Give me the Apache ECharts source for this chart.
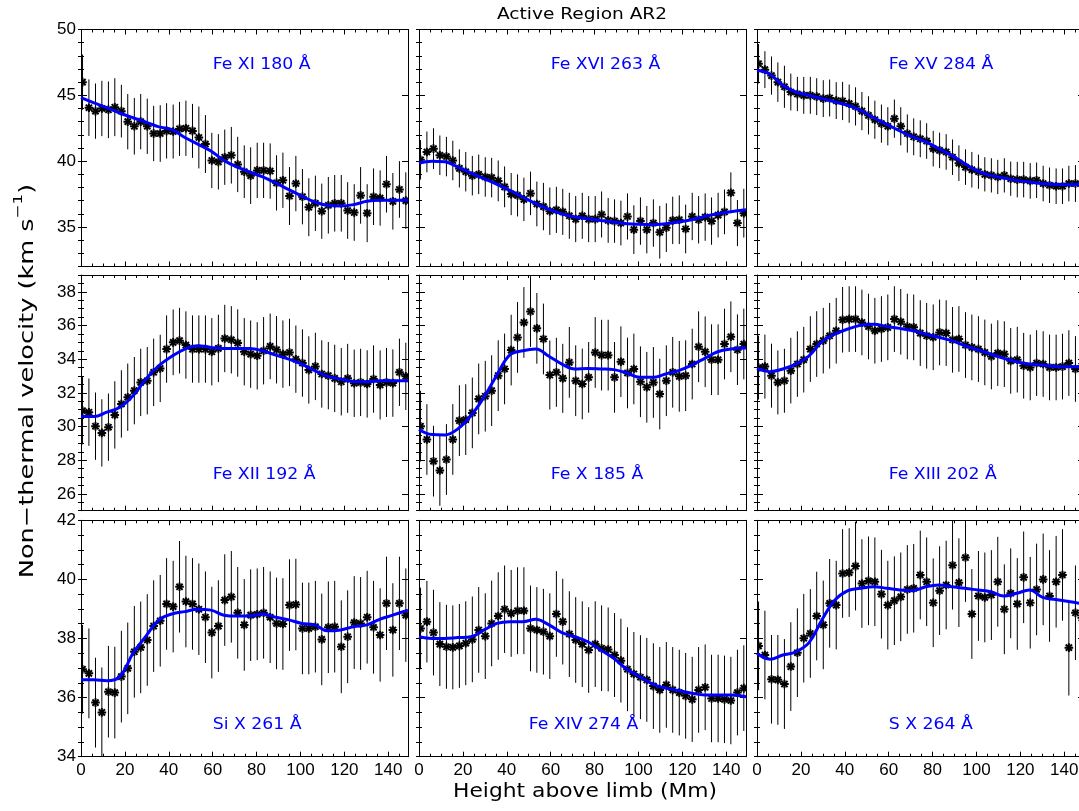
<!DOCTYPE html>
<html>
<head>
<meta charset="utf-8">
<title>Active Region AR2</title>
<script src="https://cdn.jsdelivr.net/npm/echarts@6/dist/echarts.min.js"></script>
<style>
  html, body { margin: 0; padding: 0; background: #fff; }
  #chart { width: 1079px; height: 811px; }
</style>
</head>
<body>
<div id="chart"></div>
<script>
// Non-thermal velocity vs height above limb, nine EIS lines (AR2)

// heights of the measured points (Mm)
const heights = [
  0.7, 3.6, 6.6, 9.5, 12.5, 15.4, 18.4, 21.3, 24.3, 27.2,
  30.2, 33.1, 36.1, 39.0, 42.0, 44.9, 47.8, 50.8, 53.7, 56.7,
  59.6, 62.6, 65.5, 68.5, 71.4, 74.4, 77.3, 80.3, 83.2, 86.2,
  89.1, 92.0, 95.0, 97.9, 100.9, 103.8, 106.8, 109.7, 112.7, 115.6,
  118.6, 121.5, 124.5, 127.4, 130.4, 133.3, 136.3, 139.2, 142.1, 145.1,
  148.0
];
// heights where the smoothed (blue) curve was read
const fitHeights = [
  0, 5.9, 11.8, 17.7, 23.7, 29.6, 35.5, 41.4, 47.3, 53.2,
  59.2, 65.1, 71.0, 76.9, 82.8, 88.7, 94.7, 100.6, 106.5, 112.4,
  118.3, 124.2, 130.2, 136.1, 142.0, 149.0
];

const xTicks = [0, 20, 40, 60, 80, 100, 120, 140];
const yTicksTop = [35, 40, 45, 50];
const yTicksMiddle = [26, 28, 30, 32, 34, 36, 38];
const yTicksBottom = [34, 36, 38, 40, 42];

const lineNames = [
  'Fe XI 180 Å', 'Fe XVI 263 Å', 'Fe XV 284 Å',
  'Fe XII 192 Å', 'Fe X 185 Å', 'Fe XIII 202 Å',
  'Si X 261 Å', 'Fe XIV 274 Å', 'S X 264 Å'
];

// Fe XI 180
const feXI = [
  46.0, 44.06, 43.8, 44.0, 43.9, 44.1, 43.8, 43.0, 42.65, 43.0,
  42.65, 42.1, 42.1, 42.3, 42.25, 42.45, 42.5, 42.3, 41.8, 41.3,
  40.05, 39.95, 40.3, 40.45, 39.75, 39.2, 38.9, 39.3, 39.3, 39.25,
  38.35, 38.55, 37.35, 38.3, 37.3, 36.5, 36.8, 36.2, 36.65, 36.8,
  36.8, 36.25, 36.1, 37.4, 36.05, 37.3, 37.2, 38.25, 36.95, 37.85,
  37.0
];
const feXIErr = [
  2.1, 2.15, 2.1, 2.1, 2.15, 2.2, 2.0, 2.1, 2.15, 2.1,
  2.1, 2.1, 2.15, 2.1, 2.05, 2.05, 2.1, 2.05, 2.35, 2.2,
  2.1, 2.1, 2.1, 2.15, 2.1, 2.0, 2.15, 2.1, 2.1, 2.1,
  2.1, 2.1, 2.2, 2.1, 2.1, 2.2, 2.1, 2.1, 2.15, 2.15,
  2.15, 2.15, 2.15, 2.15, 2.2, 2.15, 2.1, 2.15, 2.15, 2.15,
  2.15
];
const feXIFit = [
  44.82, 44.42, 44.06, 43.66, 43.3, 42.97, 42.6, 42.4, 41.8, 41.3,
  40.77, 40.06, 39.56, 39.18, 38.8, 38.34, 37.84, 37.35, 36.9, 36.65,
  36.6, 36.7, 36.95, 37.03, 37.03, 37.03
];

// Fe XVI 263
const feXVI = [
  40.1, 40.7, 40.95, 40.45, 40.35, 40.05, 39.45, 39.2, 38.9, 39.0,
  38.8, 38.75, 38.5, 38.05, 37.5, 37.4, 37.1, 37.55, 36.75, 36.55,
  36.2, 36.3, 36.15, 35.85, 35.6, 35.85, 35.6, 35.6, 35.95, 35.5,
  35.45, 35.3, 35.8, 34.8, 35.45, 34.8, 35.3, 34.6, 34.95, 35.5,
  35.55, 34.85, 35.8, 35.55, 35.75, 35.45, 35.9, 36.15, 37.6, 35.3,
  36.05
];
const feXVIErr = [
  1.5, 1.55, 1.55, 1.5, 1.5, 1.5, 1.45, 1.5, 1.5, 1.5,
  1.5, 1.5, 1.55, 1.55, 1.6, 1.6, 1.65, 1.65, 1.7, 1.8,
  1.8, 1.75, 1.75, 1.75, 1.75, 1.75, 1.75, 1.75, 1.75, 1.7,
  1.65, 1.7, 1.75, 1.85, 1.8, 1.8, 1.8, 2.0, 1.85, 1.8,
  1.85, 1.85, 1.8, 1.8, 1.8, 1.8, 1.7, 1.7, 1.55, 1.75,
  1.85
];
const feXVIFit = [
  39.86, 40.0, 39.95, 39.55, 39.1, 38.67, 38.24, 37.78, 37.28, 36.77,
  36.34, 36.0, 35.76, 35.63, 35.5, 35.38, 35.25, 35.2, 35.18, 35.25,
  35.38, 35.55, 35.8, 36.0, 36.16, 36.31
];

// Fe XV 284
const feXV = [
  47.4, 46.95, 46.5, 46.0, 45.65, 45.25, 45.1, 45.0, 45.0, 44.9,
  44.75, 44.8, 44.6, 44.57, 44.37, 44.16, 43.8, 43.48, 43.15, 42.85,
  42.65, 43.23, 42.65, 42.1, 41.85, 41.7, 41.53, 40.95, 40.82, 40.7,
  40.3, 39.85, 39.55, 39.35, 39.2, 39.0, 38.92, 38.8, 38.92, 38.67,
  38.6, 38.6, 38.5, 38.55, 38.3, 38.17, 38.1, 38.1, 38.3, 38.3,
  38.3
];
const feXVErr = [
  1.5, 1.4, 1.45, 1.5, 1.6, 1.4, 1.3, 1.4, 1.4, 1.4,
  1.4, 1.4, 1.4, 1.45, 1.45, 1.45, 1.45, 1.45, 1.45, 1.45,
  1.45, 1.45, 1.45, 1.45, 1.4, 1.4, 1.35, 1.35, 1.35, 1.35,
  1.35, 1.35, 1.35, 1.35, 1.3, 1.3, 1.3, 1.3, 1.3, 1.3,
  1.35, 1.35, 1.35, 1.35, 1.35, 1.35, 1.35, 1.35, 1.35, 1.4,
  1.4
];
const feXVFit = [
  46.9, 46.6, 45.76, 45.25, 45.0, 44.75, 44.5, 44.24, 43.86, 43.3,
  42.8, 42.29, 41.84, 41.46, 40.95, 40.44, 39.81, 39.25, 38.92, 38.72,
  38.54, 38.42, 38.29, 38.24, 38.2, 38.3
];

// Fe XII 192
const feXII = [
  30.94, 30.85, 30.02, 29.62, 29.96, 30.69, 31.34, 31.74, 32.13, 32.62,
  32.72, 33.22, 33.45, 34.6, 35.0, 35.1, 34.84, 34.6, 34.6, 34.6,
  34.44, 34.64, 35.23, 35.15, 34.96, 34.44, 34.3, 34.2, 34.5, 34.76,
  34.56, 34.3, 34.4, 34.0, 33.77, 33.36, 33.57, 33.12, 33.02, 32.86,
  32.66, 32.86, 32.57, 32.62, 32.53, 32.82, 32.47, 32.62, 32.58, 33.22,
  32.98
];
const feXIIErr = [
  2.0, 2.0, 2.0, 2.0, 2.0, 2.0, 2.0, 2.0, 2.0, 2.0,
  2.0, 2.0, 2.0, 2.0, 1.95, 1.95, 2.0, 2.0, 2.0, 2.0,
  2.0, 2.0, 2.0, 2.0, 2.0, 2.0, 2.0, 2.0, 2.0, 1.95,
  2.0, 2.0, 2.0, 2.0, 2.0, 2.0, 2.0, 2.0, 2.0, 2.0,
  2.0, 2.05, 2.0, 2.0, 2.0, 2.0, 2.05, 2.05, 2.0, 2.0,
  2.0
];
const feXIIFit = [
  30.6, 30.59, 30.85, 31.14, 31.83, 32.82, 33.61, 34.17, 34.6, 34.8,
  34.7, 34.64, 34.64, 34.64, 34.5, 34.24, 34.0, 33.7, 33.32, 32.98,
  32.82, 32.68, 32.66, 32.72, 32.72, 32.72
];

// Fe X 185
const feX = [
  30.02, 29.23, 27.94, 27.39, 28.04, 29.23, 30.35, 30.41, 30.81, 31.64,
  31.8, 32.13, 33.02, 33.42, 34.54, 35.29, 36.18, 36.83, 35.83, 35.2,
  33.06, 33.22, 32.86, 33.81, 32.72, 32.53, 32.92, 34.4, 34.24, 34.24,
  32.92, 33.85, 33.18, 33.42, 32.66, 32.33, 32.62, 31.93, 32.72, 33.22,
  32.98, 33.02, 33.71, 34.74, 34.44, 33.97, 33.97, 34.9, 35.33, 34.56,
  34.9
];
const feXErr = [
  2.1, 2.1, 2.1, 2.1, 2.1, 2.1, 2.1, 2.1, 2.1, 2.1,
  2.1, 2.1, 2.1, 2.1, 2.1, 2.1, 2.1, 2.1, 2.1, 2.1,
  2.05, 2.05, 2.05, 2.1, 2.1, 2.1, 2.1, 2.1, 2.1, 2.1,
  2.1, 2.1, 2.1, 2.1, 2.1, 2.1, 2.1, 2.1, 2.1, 2.1,
  2.1, 2.1, 2.1, 2.1, 2.1, 2.1, 2.1, 2.1, 2.1, 2.1,
  2.1
];
const feXFit = [
  29.82, 29.52, 29.5, 29.86, 30.65, 31.74, 33.06, 34.25, 34.5, 34.6,
  34.17, 33.71, 33.42, 33.45, 33.42, 33.38, 33.18, 32.92, 32.92, 33.12,
  33.32, 33.65, 34.05, 34.44, 34.6, 34.66
];

// Fe XIII 202
const feXIII = [
  33.5, 33.56, 33.02, 32.62, 32.72, 33.32, 33.71, 33.97, 34.6, 34.9,
  35.1, 35.39, 35.69, 36.34, 36.38, 36.38, 36.18, 35.94, 35.69, 35.79,
  35.89, 36.38, 36.22, 35.94, 35.89, 35.55, 35.39, 35.3, 35.59, 35.55,
  35.15, 35.2, 34.84, 34.7, 34.6, 34.4, 34.16, 34.36, 34.3, 33.9,
  33.97, 33.61, 33.51, 33.77, 33.71, 33.51, 33.51, 33.56, 33.77, 33.42,
  33.6
];
const feXIIIErr = [
  1.9, 1.9, 1.9, 1.9, 1.9, 1.95, 1.95, 1.95, 1.95, 1.95,
  1.95, 1.95, 1.95, 1.95, 1.95, 1.95, 1.95, 1.95, 1.95, 1.95,
  1.95, 1.95, 1.95, 1.95, 1.95, 1.95, 1.95, 1.95, 1.95, 1.95,
  1.95, 1.95, 1.95, 1.95, 1.95, 1.95, 1.95, 1.95, 1.95, 1.95,
  1.95, 1.95, 1.95, 1.95, 1.95, 1.95, 1.95, 1.95, 1.95, 1.95,
  1.95
];
const feXIIIFit = [
  33.45, 33.26, 33.42, 33.71, 34.2, 35.04, 35.49, 35.79, 36.02, 36.08,
  35.94, 35.83, 35.69, 35.49, 35.3, 35.1, 34.8, 34.56, 34.3, 34.05,
  33.85, 33.71, 33.65, 33.57, 33.55, 33.55
];

// Si X 261
const siX = [
  36.96, 36.82, 35.83, 35.5, 36.2, 36.17, 36.71, 36.99, 37.55, 37.7,
  37.95, 38.42, 38.6, 39.17, 39.08, 39.75, 39.25, 39.17, 38.99, 38.72,
  38.2, 38.42, 39.3, 39.41, 38.87, 38.46, 38.79, 38.82, 38.87, 38.72,
  38.51, 38.49, 39.13, 39.15, 38.34, 38.34, 38.4, 37.97, 38.38, 38.4,
  37.72, 38.06, 38.54, 38.51, 38.72, 38.38, 38.12, 39.19, 38.29, 39.19,
  38.79
];
const siXErr = [
  1.5, 1.52, 1.52, 1.52, 1.55, 1.55, 1.55, 1.55, 1.55, 1.55,
  1.55, 1.55, 1.55, 1.55, 1.55, 1.55, 1.55, 1.55, 1.55, 1.55,
  1.55, 1.55, 1.55, 1.55, 1.55, 1.55, 1.55, 1.55, 1.55, 1.55,
  1.55, 1.55, 1.55, 1.55, 1.55, 1.55, 1.55, 1.55, 1.55, 1.55,
  1.57, 1.57, 1.57, 1.57, 1.57, 1.57, 1.58, 1.58, 1.58, 1.58,
  1.58
];
const siXFit = [
  36.6, 36.6, 36.57, 36.71, 37.5, 38.08, 38.63, 38.83, 38.91, 38.99,
  38.96, 38.79, 38.76, 38.76, 38.83, 38.72, 38.63, 38.51, 38.46, 38.26,
  38.29, 38.4, 38.46, 38.65, 38.79, 38.96
];

// Fe XIV 274
const feXIV = [
  38.34, 38.57, 38.2, 37.81, 37.72, 37.7, 37.75, 37.84, 37.97, 38.29,
  38.08, 38.51, 38.76, 38.99, 38.85, 38.94, 38.94, 38.34, 38.29, 38.23,
  38.08, 38.83, 38.57, 38.15, 37.95, 37.81, 37.61, 37.81, 37.67, 37.63,
  37.44, 37.25, 36.96, 36.8, 36.69, 36.6, 36.39, 36.26, 36.43, 36.26,
  36.17, 36.06, 35.94, 36.26, 36.35, 35.97, 35.97, 35.94, 35.9, 36.17,
  36.32
];
const feXIVErr = [
  1.38, 1.38, 1.45, 1.42, 1.42, 1.42, 1.42, 1.42, 1.45, 1.45,
  1.45, 1.45, 1.48, 1.48, 1.47, 1.47, 1.47, 1.45, 1.45, 1.45,
  1.45, 1.45, 1.45, 1.45, 1.45, 1.45, 1.45, 1.45, 1.45, 1.42,
  1.42, 1.42, 1.42, 1.42, 1.42, 1.42, 1.45, 1.45, 1.45, 1.45,
  1.45, 1.45, 1.44, 1.45, 1.45, 1.48, 1.48, 1.48, 1.48, 1.45,
  1.45
];
const feXIVFit = [
  38.06, 38.0, 38.0, 38.03, 38.06, 38.29, 38.51, 38.57, 38.57, 38.65,
  38.46, 38.2, 38.06, 37.89, 37.61, 37.33, 36.96, 36.71, 36.46, 36.32,
  36.24, 36.15, 36.09, 36.09, 36.09, 36.03
];

// S X 264
const sX = [
  37.75, 37.44, 36.62, 36.6, 36.46, 37.05, 37.52, 38.01, 38.17, 38.76,
  38.46, 39.19, 39.13, 40.2, 40.23, 40.45, 39.86, 39.95, 39.92, 39.5,
  39.13, 39.28, 39.41, 39.66, 39.7, 40.15, 39.92, 39.21, 39.62, 39.81,
  40.48, 39.89, 40.74, 38.83, 39.44, 39.39, 39.47, 39.92, 38.99, 39.53,
  39.17, 40.07, 39.21, 39.66, 40.0, 39.44, 39.92, 40.15, 37.69, 38.87,
  38.7
];
const sXErr = [
  1.5, 1.5, 1.5, 1.52, 1.52, 1.5, 1.5, 1.5, 1.5, 1.5,
  1.5, 1.5, 1.5, 1.5, 1.5, 1.5, 1.5, 1.5, 1.5, 1.5,
  1.5, 1.5, 1.5, 1.5, 1.5, 1.5, 1.5, 1.5, 1.5, 1.5,
  1.5, 1.5, 1.5, 1.52, 1.52, 1.52, 1.52, 1.52, 1.52, 1.52,
  1.55, 1.55, 1.55, 1.55, 1.55, 1.55, 1.55, 1.55, 1.62, 1.6,
  1.6
];
const sXFit = [
  37.5, 37.3, 37.44, 37.55, 37.86, 38.63, 39.3, 39.62, 39.7, 39.75,
  39.7, 39.64, 39.62, 39.75, 39.81, 39.75, 39.7, 39.64, 39.58, 39.44,
  39.53, 39.64, 39.39, 39.32, 39.25, 39.17
];

const panelValues = [feXI, feXVI, feXV, feXII, feX, feXIII, siX, feXIV, sX];
const panelErrors = [feXIErr, feXVIErr, feXVErr, feXIIErr, feXErr, feXIIIErr, siXErr, feXIVErr, sXErr];
const panelFits = [feXIFit, feXVIFit, feXVFit, feXIIFit, feXFit, feXIIIFit, siXFit, feXIVFit, sXFit];

// ---- layout ----
const xMax = 149;
const colLeft = [81, 419, 757];
const panelWidth = 327;
const rowTop = [29.5, 275, 520.3];
const rowHeight = [237, 235.7, 236.4];
const rowRange = [[32, 50], [25, 39], [34, 42]];
const rowMinorStep = [1, 0.5, 0.5];
const rowTicks = [yTicksTop, yTicksMiddle, yTicksBottom];
// label anchor (data coords: left edge, baseline)
const labelX = [60, 60, 60, 60, 60, 60, 60, 50, 60];
const rowLabelY = [47, 26.9, 34.95];

const tickFont = { color: '#000', fontFamily: 'Liberation Sans', fontSize: 17 };
const black = { color: '#000', width: 1 };

const chart = echarts.init(document.getElementById('chart'));

const grids = [], xAxes = [], yAxes = [], series = [];

function errorStar(params, api) {
  const h = api.value(0), v = api.value(1), e = api.value(2);
  const c = api.coord([h, v]);
  const hi = api.coord([h, v + e]);
  const lo = api.coord([h, v - e]);
  const box = params.coordSys;
  const top = Math.max(hi[1], box.y);
  const bottom = Math.min(lo[1], box.y + box.height);
  const r = 4.3, d = r * 0.72;
  const star = { stroke: '#000', lineWidth: 2 };
  const seg = (x1, y1, x2, y2, style) => ({ type: 'line', shape: { x1, y1, x2, y2 }, style });
  return {
    type: 'group',
    children: [
      seg(c[0], top, c[0], bottom, { stroke: '#000', lineWidth: 1 }),
      seg(c[0] - r, c[1], c[0] + r, c[1], star),
      seg(c[0], c[1] - r, c[0], c[1] + r, star),
      seg(c[0] - d, c[1] - d, c[0] + d, c[1] + d, star),
      seg(c[0] - d, c[1] + d, c[0] + d, c[1] - d, star)
    ]
  };
}

for (let i = 0; i < 9; i++) {
  const row = Math.floor(i / 3), col = i % 3;
  grids.push({
    left: colLeft[col], top: rowTop[row], width: panelWidth, height: rowHeight[row],
    containLabel: false, outerBoundsMode: 'none'
  });

  const xBase = { gridIndex: i, type: 'value', min: 0, max: xMax, splitLine: { show: false },
    axisLine: { onZero: false, lineStyle: black } };
  const xMajor = pos => ({ ...xBase, position: pos,
    axisTick: { inside: true, length: 5, customValues: xTicks, lineStyle: black },
    axisLabel: { show: pos === 'bottom' && row === 2, customValues: xTicks, margin: 5, ...tickFont } });
  const xMinor = pos => ({ ...xBase, position: pos, interval: 5, axisLine: { show: false },
    axisTick: { inside: true, length: 3, lineStyle: black }, axisLabel: { show: false } });
  xAxes.push(xMajor('bottom'), xMinor('bottom'), xMajor('top'), xMinor('top'));

  const [yMin, yMaxV] = rowRange[row];
  const yBase = { gridIndex: i, type: 'value', min: yMin, max: yMaxV, splitLine: { show: false },
    axisLine: { onZero: false, lineStyle: black } };
  const yMajor = pos => ({ ...yBase, position: pos,
    axisTick: { inside: true, length: 6, customValues: rowTicks[row], lineStyle: black },
    axisLabel: { show: pos === 'left' && col === 0, customValues: rowTicks[row], margin: 5, ...tickFont } });
  const yMinor = pos => ({ ...yBase, position: pos, interval: rowMinorStep[row], axisLine: { show: false },
    axisTick: { inside: true, length: 3, lineStyle: black }, axisLabel: { show: false } });
  yAxes.push(yMajor('left'), yMinor('left'), yMajor('right'), yMinor('right'));

  const pts = heights.map((h, k) => [h, panelValues[i][k], panelErrors[i][k]]);
  const fit = fitHeights.map((h, k) => [h, panelFits[i][k]]);
  series.push({
    type: 'custom', name: lineNames[i], xAxisIndex: 4 * i, yAxisIndex: 4 * i,
    renderItem: errorStar, data: pts, encode: { x: 0, y: 1 }, clip: true, z: 2, silent: true
  });
  series.push({
    type: 'line', xAxisIndex: 4 * i, yAxisIndex: 4 * i, data: fit, smooth: 0.4,
    symbol: 'none', lineStyle: { color: '#0000ff', width: 3 }, z: 3, silent: true, clip: true
  });
}

chart.setOption({
  backgroundColor: '#fff',
  animation: false,
  grid: grids,
  xAxis: xAxes,
  yAxis: yAxes,
  series: series
});

// blue line names inside each panel, plus figure titles
const texts = lineNames.map((name, i) => {
  const p = chart.convertToPixel({ xAxisIndex: 4 * i, yAxisIndex: 4 * i },
    [labelX[i], rowLabelY[Math.floor(i / 3)]]);
  return {
    type: 'text', x: p[0], y: p[1] + 4, scaleX: 1.08, silent: true,
    style: { text: name, fill: '#0000ff', font: '16px "DejaVu Sans"', align: 'left', verticalAlign: 'bottom' }
  };
});

texts.push({
  type: 'text', x: 582, y: 23, scaleX: 1.16, silent: true,
  style: { text: 'Active Region AR2', fill: '#000', font: '16px "DejaVu Sans"', align: 'center', verticalAlign: 'bottom' }
});
texts.push({
  type: 'text', x: 585, y: 802, scaleX: 1.09, silent: true,
  style: { text: 'Height above limb (Mm)', fill: '#000', font: '20px "DejaVu Sans"', align: 'center', verticalAlign: 'bottom' }
});
texts.push({
  type: 'text', x: 25, y: 381, rotation: Math.PI / 2, scaleX: 1.28, silent: true,
  style: {
    text: '{a|Non−thermal velocity (km s}{b|−1}{a|)}',
    align: 'center', verticalAlign: 'middle', fill: '#000',
    rich: {
      a: { fontFamily: 'DejaVu Sans', fontSize: 20, lineHeight: 26, verticalAlign: 'bottom', fill: '#000' },
      b: { fontFamily: 'DejaVu Sans', fontSize: 13, lineHeight: 14, verticalAlign: 'top', fill: '#000' }
    }
  }
});

chart.setOption({ graphic: texts });
</script>
</body>
</html>
